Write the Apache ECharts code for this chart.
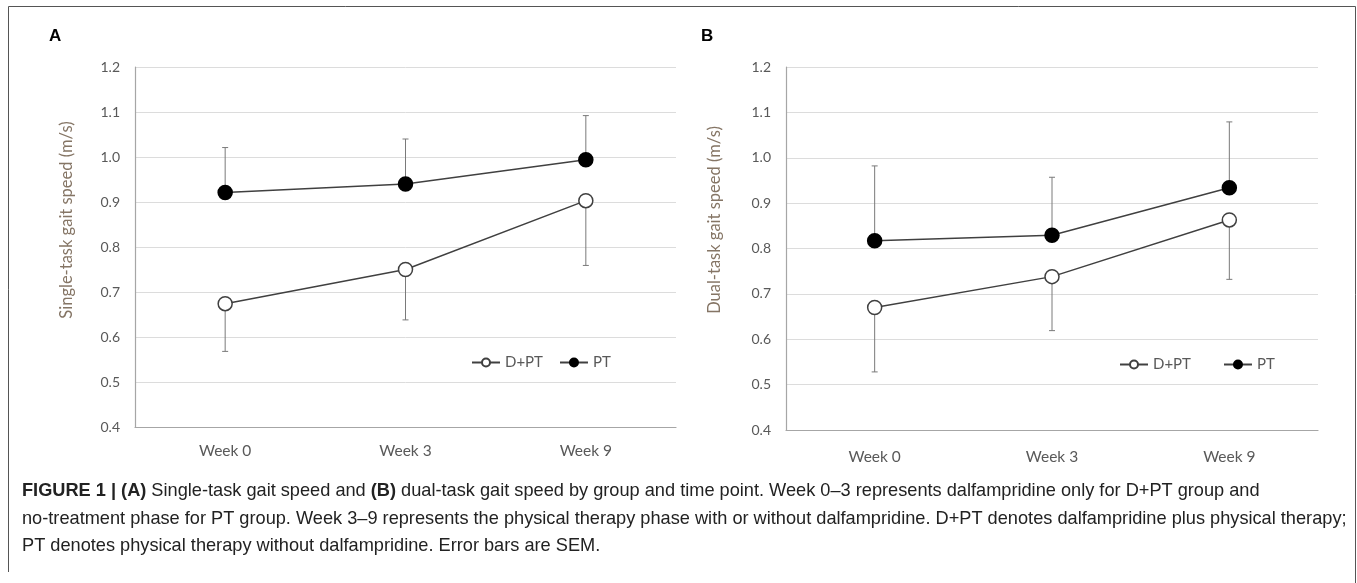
<!DOCTYPE html>
<html>
<head>
<meta charset="utf-8">
<script src="https://cdn.jsdelivr.net/npm/echarts@6/dist/echarts.min.js"></script>
<style>
html,body{margin:0;padding:0;background:#fff;}
#chart{width:1357px;height:583px;}
</style>
</head>
<body>
<div id="chart"></div>
<script>
// ---- data ----
const categories = ['Week 0', 'Week 3', 'Week 9'];
const yTicks = [0.4, 0.5, 0.6, 0.7, 0.8, 0.9, 1.0, 1.1, 1.2];
const seriesNames = ['D+PT', 'PT'];
// Panel A: single-task gait speed (m/s)
const singleDPT = [0.674, 0.750, 0.903];
const singleDPTSem = [0.106, 0.112, 0.144];
const singlePT = [0.921, 0.940, 0.994];
const singlePTSem = [0.100, 0.100, 0.098];
// Panel B: dual-task gait speed (m/s)
const dualDPT = [0.670, 0.738, 0.863];
const dualDPTSem = [0.142, 0.119, 0.131];
const dualPT = [0.817, 0.829, 0.934];
const dualPTSem = [0.165, 0.128, 0.145];

const chart = echarts.init(document.getElementById('chart'));

const FONT = 'Lato, "Open Sans", sans-serif';
const tickFontY = { color: '#595959', fontSize: 14, fontFamily: FONT };
const tickFontX = { color: '#595959', fontSize: 15.5, fontFamily: FONT };
const legendFont = { color: '#595959', fontSize: 15, fontFamily: FONT };

function errData(means, sems, dir) {
  return means.map((m, i) => [i, m, m + dir * sems[i]]);
}
function errRender(params, api) {
  const x = api.value(0);
  const p0 = api.coord([x, api.value(1)]);
  const p1 = api.coord([x, api.value(2)]);
  const st = { stroke: '#7a7a7a', lineWidth: 1 };
  return {
    type: 'group',
    children: [
      { type: 'line', shape: { x1: p0[0], y1: p0[1], x2: p1[0], y2: p1[1] }, style: st },
      { type: 'line', shape: { x1: p1[0] - 3, y1: p1[1], x2: p1[0] + 3, y2: p1[1] }, style: st }
    ]
  };
}

function makeAxes(idx, labelMargin) {
  return {
    x: {
      type: 'category', gridIndex: idx, data: categories, boundaryGap: true,
      axisLine: { lineStyle: { color: '#a6a6a6', width: 1.2 } },
      axisTick: { show: false },
      axisLabel: Object.assign({ margin: labelMargin }, tickFontX),
      splitLine: { show: false }
    },
    y: {
      type: 'value', gridIndex: idx, min: yTicks[0], max: yTicks[yTicks.length - 1], interval: 0.1,
      axisLine: { show: true, lineStyle: { color: '#a6a6a6', width: 1.2 } },
      axisTick: { show: false },
      axisLabel: Object.assign({ margin: 15, formatter: v => v.toFixed(1) }, tickFontY),
      splitLine: { lineStyle: { color: '#dcdcdc', width: 1 } }
    }
  };
}
const axA = makeAxes(0, 16);
const axB = makeAxes(1, 19);

function lineSeries(name, data, idx, filled) {
  return {
    name: name, type: 'line', xAxisIndex: idx, yAxisIndex: idx, data: data,
    symbol: 'circle', symbolSize: 14, z: 5,
    lineStyle: { color: '#404040', width: 1.5 },
    itemStyle: { color: filled ? '#000' : '#fff', borderColor: filled ? '#000' : '#404040', borderWidth: 1.5 },
    emphasis: { disabled: true }, animation: false
  };
}
function errSeries(name, means, sems, dir, idx) {
  return {
    name: name, type: 'custom', xAxisIndex: idx, yAxisIndex: idx,
    data: errData(means, sems, dir), renderItem: errRender,
    encode: { x: 0, y: [1, 2] }, z: 2, silent: true, animation: false
  };
}

const CAP_FONT = '"Liberation Sans", Arial, sans-serif';
const CAP_SIZE = 18.2;
const captionStyle = {
  fontFamily: CAP_FONT, fontSize: CAP_SIZE, fill: '#222',
  rich: {
    b: { fontWeight: 'bold', fontFamily: CAP_FONT, fontSize: CAP_SIZE, color: '#222' },
    n: { fontFamily: CAP_FONT, fontSize: CAP_SIZE, color: '#222' }
  }
};
const captionLines = [
  '{b|FIGURE 1 | (A)}{n| Single-task gait speed and }{b|(B)}{n| dual-task gait speed by group and time point. Week 0–3 represents dalfampridine only for D+PT group and}',
  '{n|no-treatment phase for PT group. Week 3–9 represents the physical therapy phase with or without dalfampridine. D+PT denotes dalfampridine plus physical therapy;}',
  '{n|PT denotes physical therapy without dalfampridine. Error bars are SEM.}'
];
const yTitleA = 'Single-task gait speed (m/s)';
const yTitleB = 'Dual-task gait speed (m/s)';
const yTitleStyle = { fill: '#857565', fontSize: 16.5, fontFamily: FONT, align: 'center', verticalAlign: 'middle' };

chart.setOption({
  animation: false,
  backgroundColor: '#fff',
  grid: [
    { left: 135, right: 1357 - 676, top: 67, bottom: 583 - 427 },
    { left: 786, right: 1357 - 1318, top: 67, bottom: 583 - 430 }
  ],
  xAxis: [axA.x, axB.x],
  yAxis: [axA.y, axB.y],
  legend: [
    { data: seriesNames, left: 466, top: 350, itemWidth: 28, itemHeight: 10, itemGap: 16,
      textStyle: legendFont, selectedMode: false },
    { data: seriesNames, left: 1114, top: 352, itemWidth: 28, itemHeight: 10, itemGap: 32,
      textStyle: legendFont, selectedMode: false }
  ],
  series: [
    lineSeries('D+PT', singleDPT, 0, false),
    lineSeries('PT', singlePT, 0, true),
    errSeries('D+PT', singleDPT, singleDPTSem, -1, 0),
    errSeries('PT', singlePT, singlePTSem, 1, 0),
    lineSeries('D+PT', dualDPT, 1, false),
    lineSeries('PT', dualPT, 1, true),
    errSeries('D+PT', dualDPT, dualDPTSem, -1, 1),
    errSeries('PT', dualPT, dualPTSem, 1, 1)
  ],
  graphic: [
    { type: 'polyline', shape: { points: [[8.5, 572], [8.5, 6.5], [1355.5, 6.5], [1355.5, 583]] },
      style: { stroke: '#555', lineWidth: 1, fill: null }, silent: true },
    { type: 'text', left: 49, top: 28, style: { text: 'A', fontSize: 17, fontWeight: 'bold', fill: '#000', fontFamily: CAP_FONT } },
    { type: 'text', left: 701, top: 28, style: { text: 'B', fontSize: 17, fontWeight: 'bold', fill: '#000', fontFamily: CAP_FONT } },
    { type: 'text', x: 67, y: 220, rotation: Math.PI / 2, style: Object.assign({ text: yTitleA }, yTitleStyle), silent: true },
    { type: 'text', x: 715, y: 220, rotation: Math.PI / 2, style: Object.assign({ text: yTitleB }, yTitleStyle), silent: true },
    { type: 'text', left: 22, top: 482, style: Object.assign({ text: captionLines[0] }, captionStyle) },
    { type: 'text', left: 22, top: 510, style: Object.assign({ text: captionLines[1] }, captionStyle) },
    { type: 'text', left: 22, top: 537, style: Object.assign({ text: captionLines[2] }, captionStyle) }
  ]
});
</script>
</body>
</html>
